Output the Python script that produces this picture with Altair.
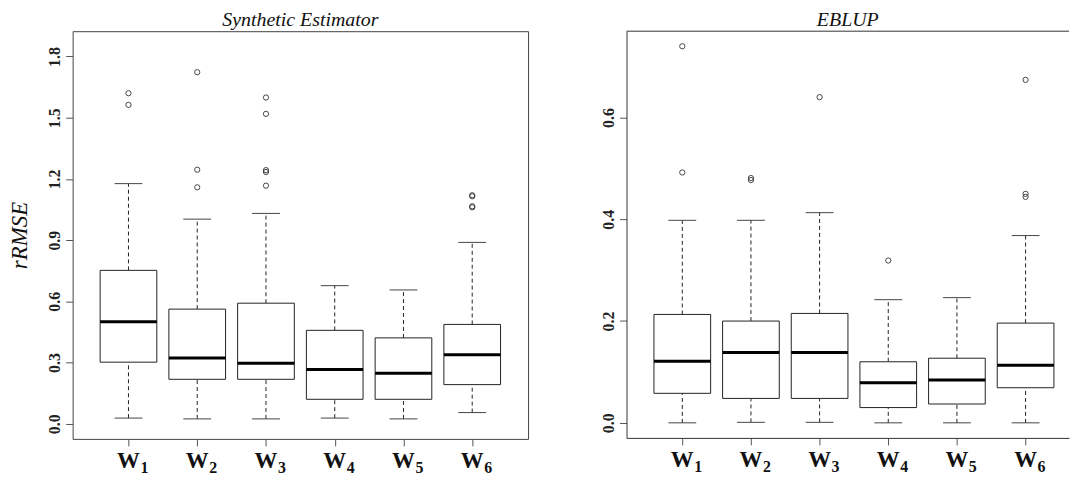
import altair as alt
import pandas as pd

# ---------------- data ----------------
group_subscripts = ["1", "2", "3", "4", "5", "6"]
group_positions = [1, 2, 3, 4, 5, 6]

syn_low = [0.028, 0.024, 0.024, 0.028, 0.024, 0.055]
syn_q1 = [0.302, 0.218, 0.218, 0.120, 0.120, 0.192]
syn_median = [0.500, 0.323, 0.297, 0.266, 0.248, 0.338]
syn_q3 = [0.752, 0.562, 0.591, 0.458, 0.421, 0.487]
syn_high = [1.177, 1.003, 1.031, 0.677, 0.656, 0.889]
syn_outliers = [
    [1.620, 1.563],
    [1.723, 1.245, 1.159],
    [1.599, 1.519, 1.243, 1.234, 1.167],
    [],
    [],
    [1.120, 1.115, 1.066, 1.061],
]

eb_low = [0.000, 0.001, 0.001, 0.000, 0.000, 0.000]
eb_q1 = [0.058, 0.048, 0.048, 0.030, 0.037, 0.069]
eb_median = [0.121, 0.138, 0.138, 0.079, 0.084, 0.113]
eb_q3 = [0.213, 0.200, 0.215, 0.120, 0.127, 0.196]
eb_high = [0.398, 0.398, 0.413, 0.242, 0.246, 0.368]
eb_outliers = [
    [0.740, 0.492],
    [0.481, 0.477],
    [0.640],
    [0.319],
    [],
    [0.674, 0.450, 0.444],
]

syn_ticks = [0.0, 0.3, 0.6, 0.9, 1.2, 1.5, 1.8]
eb_ticks = [0.0, 0.2, 0.4, 0.6]

FONT = "Liberation Serif"


def stats_table(low, q1, med, q3, high):
    return pd.DataFrame({
        "pos": group_positions,
        "letter": ["W"] * len(group_positions),
        "sub": group_subscripts,
        "lo": low, "q1": q1, "med": med, "q3": q3, "hi": high,
    })


def outlier_table(outs):
    rows = []
    for p, vals in zip(group_positions, outs):
        for v in vals:
            rows.append({"pos": p, "v": v})
    return pd.DataFrame(rows)


def panel(stats, outs, title, title_offset, ticks, ydomain, xdomain,
          width, height, ytitle, full_frame):
    xscale = alt.Scale(domain=xdomain, nice=False, zero=False)
    yscale = alt.Scale(domain=ydomain, nice=False, zero=False)
    xaxis = alt.Axis(values=group_positions, labels=False, tickSize=7,
                     tickColor="#555", domain=not full_frame,
                     domainColor="#333", grid=False, title=None)
    yaxis_kw = dict(values=ticks, format=".1f", labelAngle=-90,
                    labelAlign="center", labelBaseline="bottom",
                    labelFont=FONT, labelFontWeight="bold", labelFontSize=16,
                    labelColor="#222", labelPadding=3, tickSize=7,
                    tickColor="#555", domain=not full_frame,
                    domainColor="#333", grid=False)
    if ytitle:
        yaxis = alt.Axis(title=ytitle, titleFont=FONT, titleFontStyle="italic",
                         titleFontWeight="normal", titleFontSize=23,
                         titleColor="#111", titlePadding=15, **yaxis_kw)
    else:
        yaxis = alt.Axis(title=None, **yaxis_kw)

    X = alt.X("pos:Q", scale=xscale, axis=xaxis)
    base = alt.Chart(stats)

    lower_whisker = base.mark_rule(color="#222", strokeWidth=1,
                                   strokeDash=[4, 3]).encode(
        x=X, y=alt.Y("lo:Q", scale=yscale, axis=yaxis), y2="q1:Q")
    upper_whisker = base.mark_rule(color="#222", strokeWidth=1,
                                   strokeDash=[4, 3]).encode(
        x=X, y=alt.Y("q3:Q", scale=yscale), y2="hi:Q")
    low_cap = base.mark_tick(orient="horizontal", size=28, thickness=1,
                             color="#444", opacity=1).encode(
        x=X, y=alt.Y("lo:Q", scale=yscale))
    high_cap = base.mark_tick(orient="horizontal", size=28, thickness=1,
                              color="#444", opacity=1).encode(
        x=X, y=alt.Y("hi:Q", scale=yscale))
    box = base.mark_bar(size=57, fill="white", stroke="#222",
                        strokeWidth=1, opacity=1).encode(
        x=X, y=alt.Y("q1:Q", scale=yscale), y2="q3:Q")
    median = base.mark_tick(orient="horizontal", size=57, thickness=3,
                            color="#000", opacity=1).encode(
        x=X, y=alt.Y("med:Q", scale=yscale))
    points = alt.Chart(outlier_table(outs)).mark_point(
        shape="circle", size=28, filled=False, stroke="#333",
        strokeWidth=0.9, opacity=1).encode(x=X, y=alt.Y("v:Q", scale=yscale))
    w_label = base.mark_text(font=FONT, fontWeight="bold", fontSize=23,
                             align="center", baseline="alphabetic",
                             color="#111").encode(
        x=X, y=alt.value(height + 29), text="letter:N")
    sub_label = base.mark_text(font=FONT, fontWeight="bold", fontSize=16,
                               align="left", baseline="alphabetic", dx=12,
                               color="#111").encode(
        x=X, y=alt.value(height + 34), text="sub:N")

    layers = [lower_whisker, upper_whisker, low_cap, high_cap, box, median,
              points, w_label, sub_label]
    if not full_frame:
        top = alt.Chart(pd.DataFrame({"k": [0]})).mark_rule(
            color="#333", strokeWidth=1).encode(
            x=alt.value(0), x2=alt.value(width), y=alt.value(0))
        layers.append(top)

    ch = alt.layer(*layers).properties(
        width=width, height=height,
        title=alt.TitleParams(text=title, font=FONT, fontStyle="italic",
                              fontWeight="normal", fontSize=20, color="#111",
                              anchor="middle", offset=title_offset),
    )
    if full_frame:
        ch = ch.properties(view=alt.ViewBackground(stroke="#444", strokeWidth=1))
    else:
        ch = ch.properties(view=alt.ViewBackground(stroke="transparent"))
    return ch


left = panel(stats_table(syn_low, syn_q1, syn_median, syn_q3, syn_high),
             syn_outliers, "Synthetic Estimator", 1, syn_ticks,
             [-0.074, 1.924], [0.26, 6.74], 458, 410, "rRMSE", True)
right = panel(stats_table(eb_low, eb_q1, eb_median, eb_q3, eb_high),
              eb_outliers, "EBLUP", 1, eb_ticks,
              [-0.0296, 0.7696], [0.26, 6.56], 445, 409, None, False)

chart = alt.hconcat(left, right, spacing=71).properties(
    padding={"left": 0, "top": 0, "right": 0, "bottom": 0},
    background="white",
)

chart.save("out.html", embed_options={"renderer": "svg", "actions": False})
